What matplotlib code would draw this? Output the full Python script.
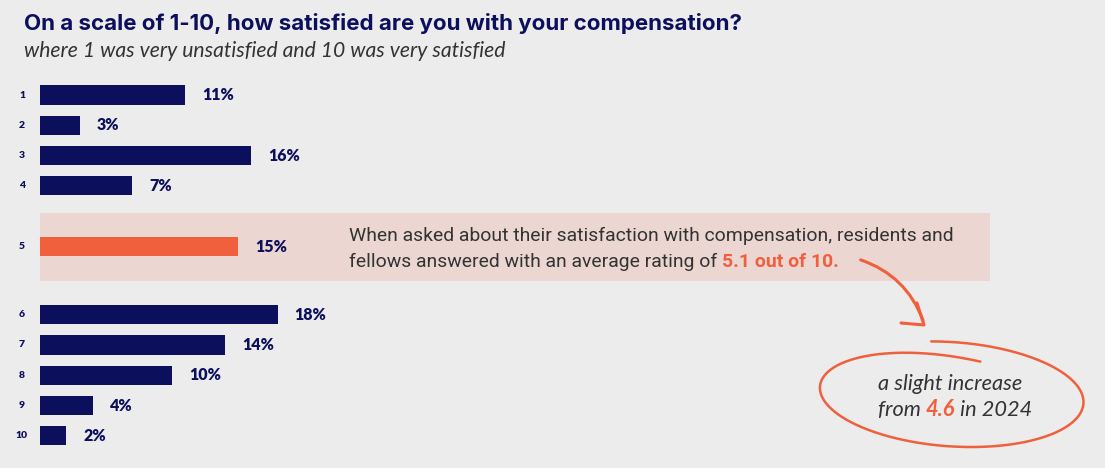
import numpy as np
import matplotlib
matplotlib.use("Agg")
import matplotlib.pyplot as plt
from matplotlib.patches import Rectangle, FancyArrowPatch

# ---- data ----
ratings = ["1", "2", "3", "4", "5", "6", "7", "8", "9", "10"]
shares = [11, 3, 16, 7, 15, 18, 14, 10, 4, 2]
highlight = "5"
title = "On a scale of 1-10, how satisfied are you with your compensation?"
subtitle = "where 1 was very unsatisfied and 10 was very satisfied"
band_line1 = "When asked about their satisfaction with compensation, residents and"
band_line2 = "fellows answered with an average rating of "
avg_rating = "5.1 out of 10."
note_line1 = "a slight increase"
prev_rating = "4.6"
prev_year = "2024"

NAVY = "#0c105c"
ORANGE = "#f0603c"
BAND = "#ebd6d2"
BG = "#ececec"
GRAY = "#333333"

W, H = 1105, 468
fig = plt.figure(figsize=(W / 100, H / 100), dpi=100, facecolor=BG)
renderer = fig.canvas.get_renderer()

fx = lambda px: px / W
fy = lambda py: 1 - py / H


def fit(txt, target_w):
    """scale font size so that text spans target_w pixels"""
    for _ in range(3):
        w = txt.get_window_extent(renderer=renderer).width
        txt.set_fontsize(txt.get_fontsize() * target_w / w)
    return txt


# row positions (gap before & after highlighted row)
ypos = []
y = 0.0
for i, r in enumerate(ratings):
    if i > 0:
        y += 1.0
        if r == highlight:
            y += 1.0
        if ratings[i - 1] == highlight:
            y += 1.25
    ypos.append(y)

px_per_pct = 13.2
row_px = 30.3
ax_left, ax_right = 40, W
ax_top, ax_bot = 70, 462
ax = fig.add_axes([ax_left / W, 1 - ax_bot / H, (ax_right - ax_left) / W, (ax_bot - ax_top) / H])
ax.set_xlim(0, (ax_right - ax_left) / px_per_pct)
ax.set_ylim((ax_bot - 95) / row_px, -(95 - ax_top) / row_px)
ax.axis("off")
ax.patch.set_visible(False)
ax.set_zorder(2)

# highlight band
band = Rectangle((fx(40), fy(281)), fx(990) - fx(40), fy(213) - fy(281),
                 transform=fig.transFigure, facecolor=BAND, edgecolor="none", zorder=-5)
fig.patches.append(band)

colors = [ORANGE if r == highlight else NAVY for r in ratings]
ax.barh(ypos, shares, height=0.63, color=colors, edgecolor="none", zorder=2)
for yy, v, r in zip(ypos, shares, ratings):
    ax.text(v + 17 / px_per_pct, yy, f"{v}%", va="center", ha="left",
            fontsize=11.5, fontweight="heavy", color=NAVY, family="Lato")
    ax.text(-18 / px_per_pct, yy, r, va="center", ha="center",
            fontsize=7.5, fontweight="heavy", color=NAVY, family="Lato")

# titles
t = fig.text(fx(24), fy(23), title, fontsize=14, fontweight="bold", color=NAVY,
             family="Inter", va="center", ha="left")
fit(t, 718)
t = fig.text(fx(24), fy(51), subtitle, fontsize=12, style="italic", color=GRAY,
             family="Lato", va="center", ha="left")
fit(t, 479)

# band text
t1 = fig.text(fx(349), fy(236), band_line1, fontsize=13, color=GRAY, family="Roboto",
              va="center", ha="left")
fit(t1, 609)
fs_band = t1.get_fontsize()
t2 = fig.text(fx(349), fy(262), band_line2, fontsize=fs_band, color=GRAY, family="Roboto",
              va="center", ha="left")
bb = t2.get_window_extent(renderer=renderer)
fig.text(bb.x1 / W, fy(262), avg_rating, fontsize=fs_band, color=ORANGE, fontweight="bold",
         family="Roboto", va="center", ha="left")

# arrow (curved)
arrow = FancyArrowPatch((fx(858), fy(259)), (fx(924), fy(323)), transform=fig.transFigure,
                        connectionstyle="arc3,rad=-0.25", arrowstyle="-",
                        color=ORANGE, lw=2.2, capstyle="round")
fig.patches.append(arrow)
fig.lines.append(plt.Line2D([fx(901), fx(924), fx(917)], [fy(323), fy(325), fy(303)],
                            transform=fig.transFigure, color=ORANGE, lw=2.2,
                            solid_capstyle="round", solid_joinstyle="round"))

# hand-drawn loop
ang = np.deg2rad(np.linspace(100, 100 - 382, 400))
frac = np.linspace(0, 1, ang.size)
cx, cy = 951, 395
rx = 133.5 - 3 * frac
ry = 53 - 3 * frac - 14 * frac ** 6
rot = np.deg2rad(3.7)
xs = rx * np.cos(ang)
ys = -ry * np.sin(ang)
X = cx + xs * np.cos(rot) - ys * np.sin(rot)
Y = cy + xs * np.sin(rot) + ys * np.cos(rot)
fig.lines.append(plt.Line2D(X / W, 1 - Y / H, transform=fig.transFigure, color=ORANGE,
                            lw=1.8, solid_capstyle="round"))

n1 = fig.text(fx(878), fy(384), note_line1, fontsize=15, style="italic", color=GRAY,
              family="Lato", ha="left", va="center")
fit(n1, 144)
fs_note = n1.get_fontsize()
parts = [("from ", GRAY, "normal"), (prev_rating, ORANGE, "bold"), (" in " + prev_year, GRAY, "normal")]
x0 = 878
for s, c, w in parts:
    tt = fig.text(x0 / W, fy(410), s, fontsize=fs_note, style="italic", color=c, fontweight=w,
                  family="Lato", va="center", ha="left")
    x0 += tt.get_window_extent(renderer=renderer).width

fig.savefig("out.png", dpi=100, facecolor=BG)
